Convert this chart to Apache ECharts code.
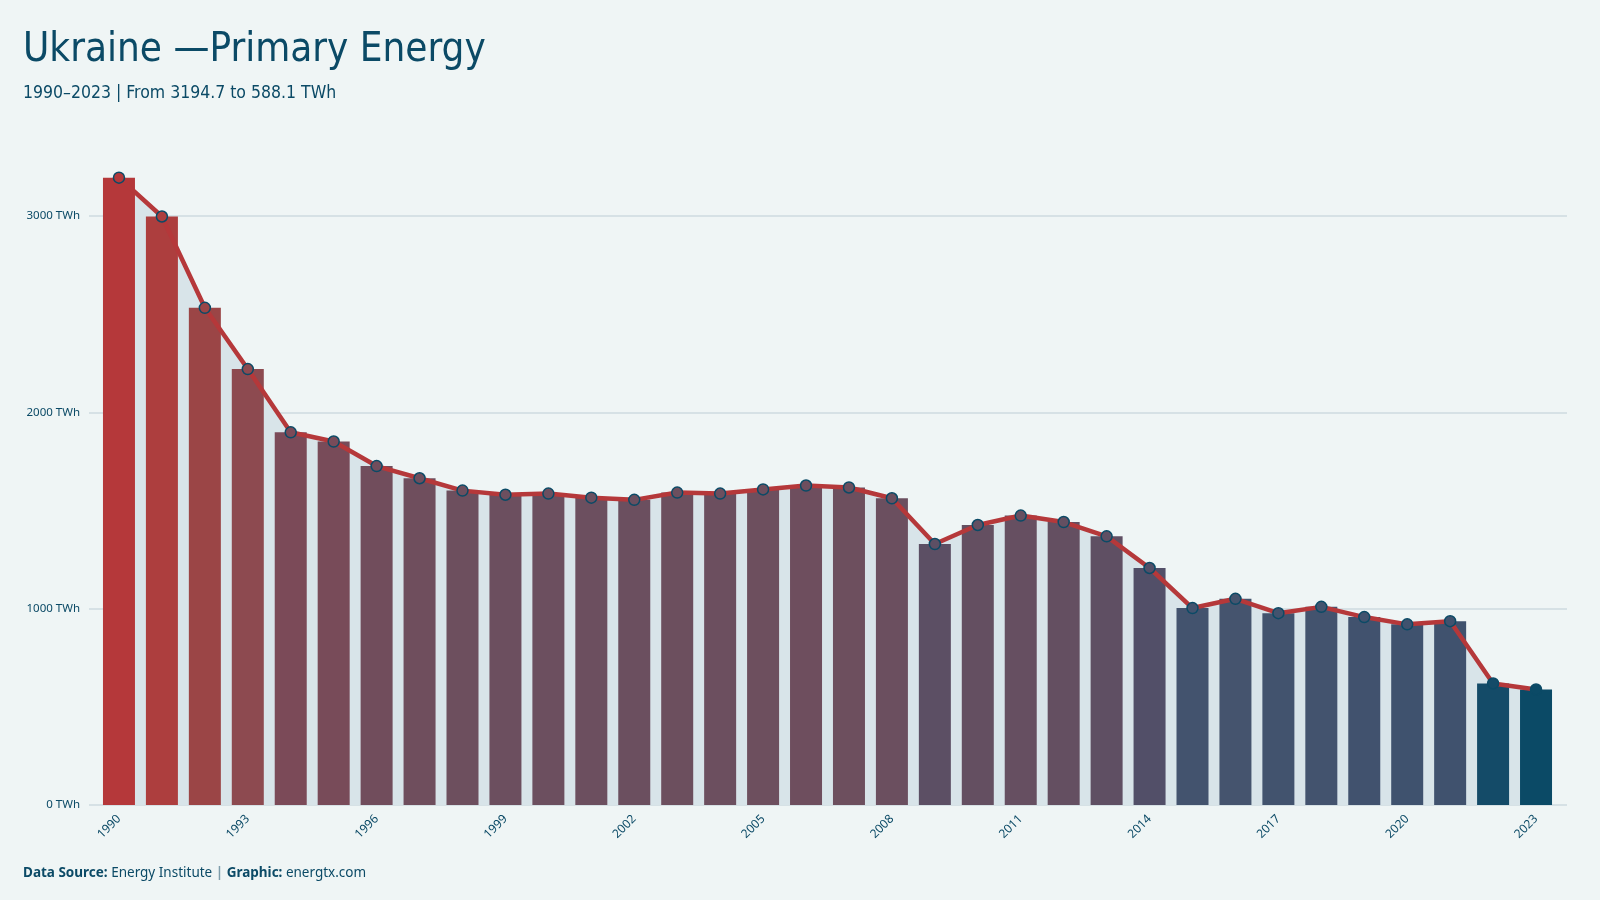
<!DOCTYPE html>
<html>
<head>
<meta charset="utf-8">
<title>Ukraine — Primary Energy</title>
<script src="https://cdn.jsdelivr.net/npm/echarts@6/dist/echarts.min.js"></script>
<style>
  html, body { margin: 0; padding: 0; background: #eff5f5; }
  #chart { width: 1600px; height: 900px; }
</style>
</head>
<body>
<div id="chart"></div>
<script>
// data
const years = ['1990', '1991', '1992', '1993', '1994', '1995', '1996', '1997', '1998', '1999',
  '2000', '2001', '2002', '2003', '2004', '2005', '2006', '2007', '2008', '2009',
  '2010', '2011', '2012', '2013', '2014', '2015', '2016', '2017', '2018', '2019',
  '2020', '2021', '2022', '2023']
const energyTWh = [3194.7, 2997, 2532, 2220, 1898, 1851, 1726, 1664, 1601, 1580,
  1586, 1565, 1554, 1591, 1586, 1607, 1627, 1617, 1562, 1329,
  1426, 1474, 1441, 1368, 1207, 1003, 1050, 977, 1009, 957,
  920, 936, 619, 588.1]
const yTicks = [0, 1000, 2000, 3000]

// colour ramp (value -> colour)
const colorStops = [
  [588, '#0b4a66'], [700, '#2c4e6c'], [930, '#40526e'], [1060, '#45546e'],
  [1250, '#564e66'], [1400, '#624f62'], [1550, '#6b4f5f'], [1700, '#704e5d'],
  [1900, '#7b4a58'], [2220, '#8d4a50'], [2530, '#9b4546'], [3000, '#ad3e3e'], [3200, '#b5383a']
]
function hexToRgb(h) {
  return [parseInt(h.slice(1, 3), 16), parseInt(h.slice(3, 5), 16), parseInt(h.slice(5, 7), 16)]
}
function valueColor(v) {
  if (v <= colorStops[0][0]) return colorStops[0][1]
  for (let i = 1; i < colorStops.length; i++) {
    if (v <= colorStops[i][0]) {
      const t = (v - colorStops[i - 1][0]) / (colorStops[i][0] - colorStops[i - 1][0])
      const a = hexToRgb(colorStops[i - 1][1]), b = hexToRgb(colorStops[i][1])
      const c = a.map((x, k) => Math.round(x + (b[k] - x) * t))
      return 'rgb(' + c.join(',') + ')'
    }
  }
  return colorStops[colorStops.length - 1][1]
}

const ink = '#0b4a66'
const labelFont = "'Noto Sans', 'DejaVu Sans', sans-serif"
const titleFont = "'Ubuntu Condensed', 'DejaVu Sans Condensed', 'Liberation Sans Narrow', sans-serif"

let myChart = echarts.init(document.getElementById('chart'))
var option = {
  backgroundColor: '#eff5f5',
  animation: false,
  title: [
    {
      text: 'Ukraine —Primary Energy',
      subtext: '1990–2023 | From 3194.7 to 588.1 TWh',
      left: 18,
      top: 26,
      itemGap: 13,
      textStyle: { color: ink, fontFamily: titleFont, fontSize: 40, fontWeight: 'normal' },
      subtextStyle: { color: ink, fontFamily: titleFont, fontSize: 17.5 }
    },
    {
      text: '{b|Data Source:} Energy Institute {s||} {b|Graphic:} energtx.com',
      left: 18,
      top: 861,
      textStyle: {
        color: ink, fontFamily: labelFont, fontSize: 13.5, fontWeight: 'normal',
        rich: {
          b: { fontWeight: 'bold', color: ink, fontFamily: labelFont, fontSize: 13.5 },
          s: { fontWeight: 'bold', color: '#7e9dab', fontFamily: labelFont, fontSize: 13.5 }
        }
      }
    }
  ],
  grid: [
    { left: 97.5, right: 42.5, top: 157, bottom: 95 },
    { left: 89, right: 33, top: 157, bottom: 95 }
  ],
  xAxis: [
    {
      type: 'category',
      gridIndex: 0,
      data: years,
      axisLine: { show: false },
      axisTick: { show: false },
      axisLabel: {
        interval: 2,
        rotate: 45,
        margin: 12,
        color: ink,
        fontFamily: labelFont,
        fontSize: 12
      }
    },
    { type: 'value', gridIndex: 1, show: false, min: 0, max: 1 }
  ],
  yAxis: [
    { type: 'value', gridIndex: 0, min: 0, max: 3300, show: false },
    {
      type: 'value',
      gridIndex: 1,
      min: yTicks[0],
      max: 3300,
      interval: 1000,
      axisLine: { show: false },
      axisTick: { show: false },
      axisLabel: {
        showMaxLabel: false,
        margin: 9,
        color: ink,
        fontFamily: labelFont,
        fontSize: 11.5,
        formatter: v => v + ' TWh'
      },
      splitLine: {
        showMaxLine: false,
        lineStyle: { color: '#d6e1e5', width: 2 }
      }
    }
  ],
  series: [
    {
      name: 'area',
      type: 'line',
      xAxisIndex: 0,
      yAxisIndex: 0,
      data: energyTWh,
      symbol: 'none',
      lineStyle: { width: 0 },
      areaStyle: { color: '#d8e4e9', opacity: 1 },
      z: 1,
      silent: true
    },
    {
      name: 'Primary Energy',
      type: 'bar',
      xAxisIndex: 0,
      yAxisIndex: 0,
      data: energyTWh,
      barWidth: 32,
      itemStyle: {
        color: p => valueColor(p.value)
      },
      z: 2
    },
    {
      name: 'Trend',
      type: 'line',
      xAxisIndex: 0,
      yAxisIndex: 0,
      data: energyTWh,
      symbol: 'circle', // 实心点
      symbolSize: 11,
      lineStyle: { color: '#b5383a', width: 4.5 },
      itemStyle: {
        color: p => valueColor(p.value),
        borderColor: ink,
        borderWidth: 1.5
      },
      z: 3
    }
  ]
}
myChart.setOption(option)
</script>
</body>
</html>
